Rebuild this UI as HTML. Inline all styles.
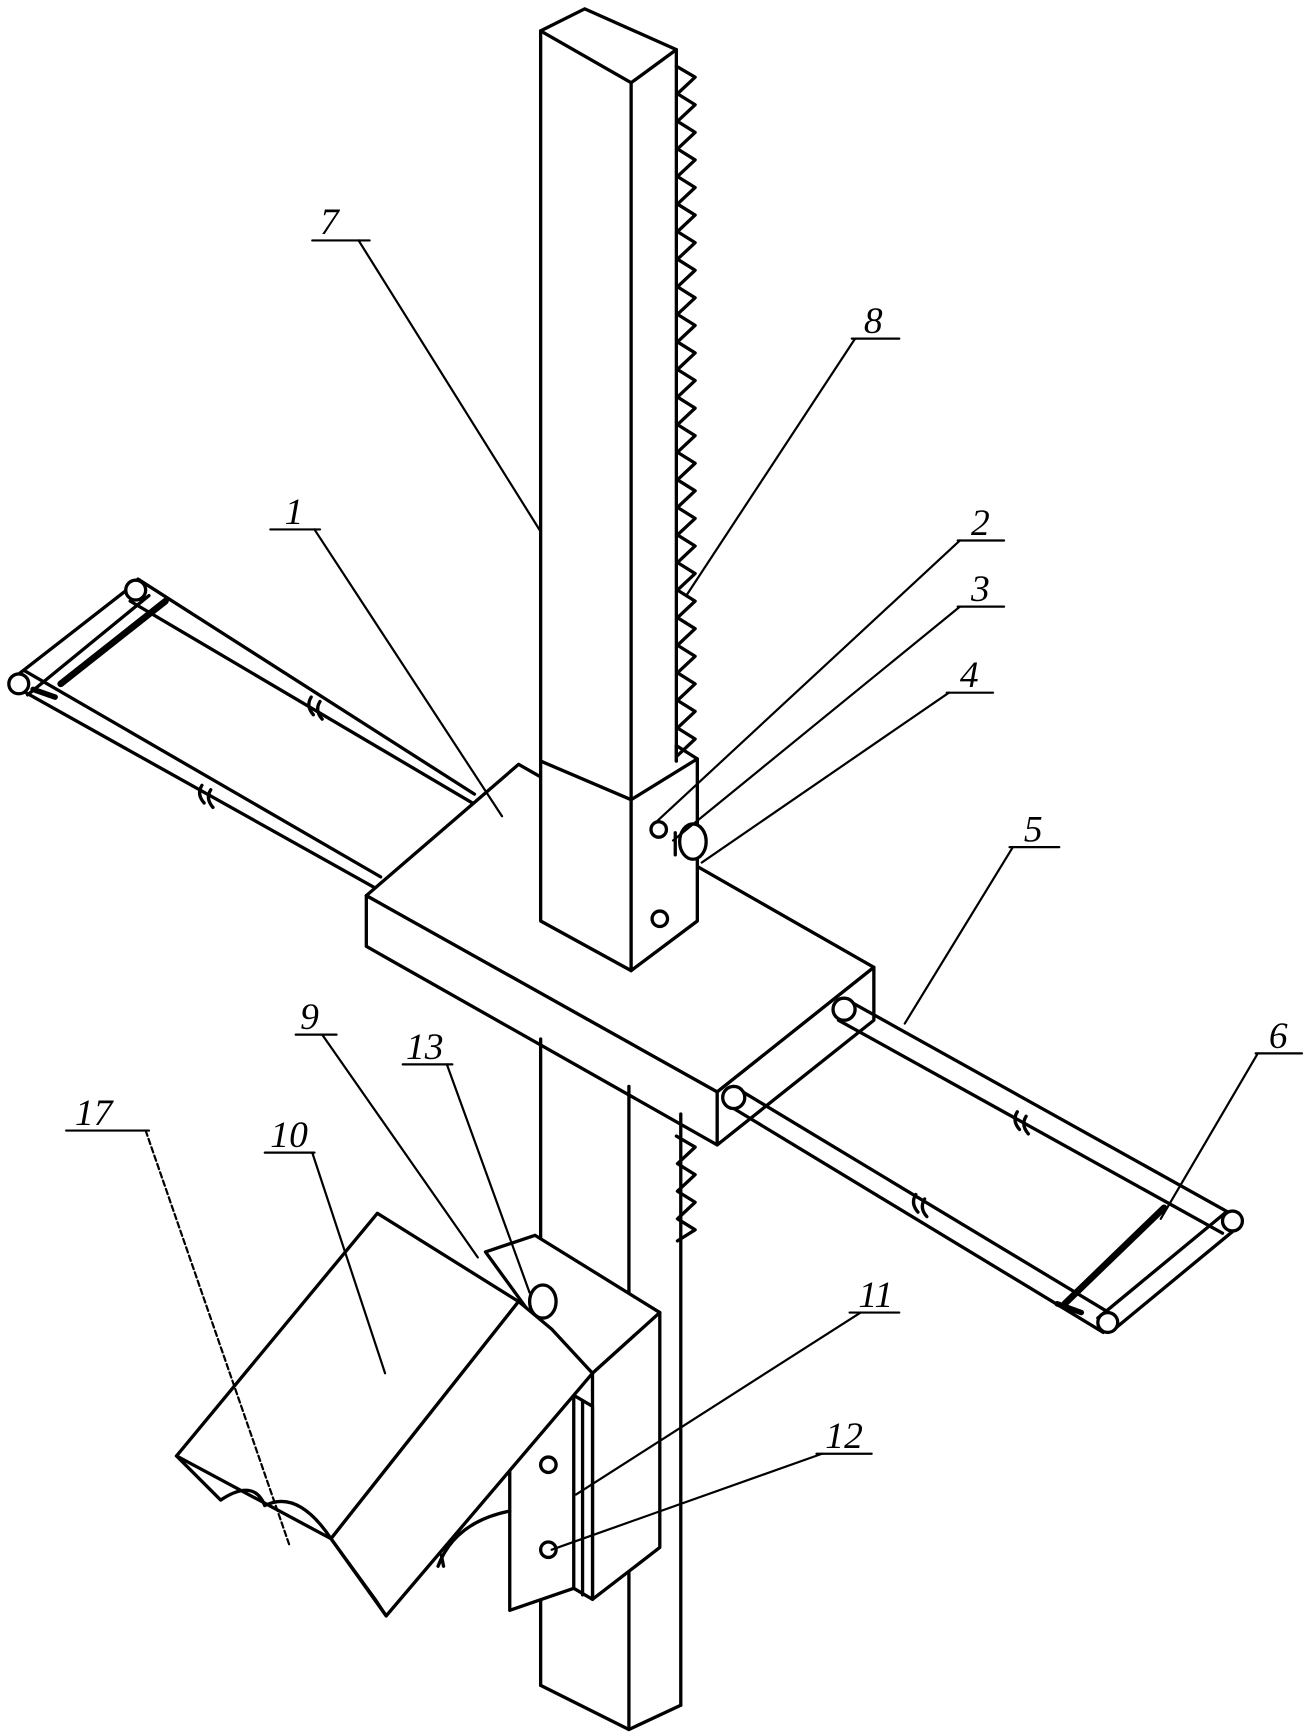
<!DOCTYPE html>
<html><head><style>
html,body{margin:0;padding:0;background:#fff;overflow:hidden;width:1313px;height:1735px;}
svg{display:block;}
text{font-family:"Liberation Serif",serif;font-style:italic;font-size:34px;fill:#000;}
</style></head><body>
<svg width="1313" height="1735" viewBox="0 0 1190 1573" preserveAspectRatio="none" xmlns="http://www.w3.org/2000/svg">
<g fill="none" stroke="#000" stroke-width="3" stroke-linejoin="round" stroke-linecap="round">
<!-- pillar top -->
<polygon points="490,28 530,8 613,45 572,75" fill="#fff"/>
<line x1="490" y1="28" x2="490" y2="690"/>
<line x1="572" y1="75" x2="572" y2="725"/>
<line x1="613" y1="45" x2="613" y2="690"/>
<polyline points="613,60 630,70 614,85 630,95 614,110 630,120 614,135 630,145 614,160 630,170 614,185 630,195 614,210 630,220 614,235 630,245 614,260 630,270 614,285 630,295 614,310 630,320 614,335 630,345 614,360 630,370 614,385 630,395 614,410 630,420 614,435 630,445 614,460 630,470 614,485 630,495 614,510 630,520 614,535 630,545 614,560 630,570 614,585 630,595 614,610 630,620 614,635 630,645 614,660 630,670 614,685"/>
<polyline points="613,1030 630,1040 614,1055 630,1065 614,1080 630,1090 614,1105 630,1115 614,1125"/>
<!-- left rods -->
<line x1="430" y1="720" x2="125" y2="525"/>
<line x1="440" y1="735" x2="118" y2="545"/>
<line x1="345" y1="795" x2="22" y2="608"/>
<line x1="340" y1="805" x2="18" y2="625"/>
<line x1="125" y1="527" x2="12" y2="615"/>
<line x1="135" y1="540" x2="25" y2="630"/>
<circle cx="123" cy="535" r="9" fill="#fff"/>
<circle cx="17" cy="620" r="9" fill="#fff"/>
<line x1="150" y1="545" x2="55" y2="620" stroke-width="6"/>
<line x1="30" y1="625" x2="50" y2="632" stroke-width="5"/>
<path d="M282,632 q-5,8 2,16 M290,636 q-5,8 2,16"/>
<path d="M183,712 q-5,8 2,16 M191,716 q-5,8 2,16"/>
<!-- block 1 -->
<polygon points="332,812 470,693 792,877 650,990" fill="#fff"/>
<polygon points="332,812 650,990 650,1038 332,858" fill="#fff"/>
<polygon points="650,990 792,877 792,925 650,1038" fill="#fff"/>
<!-- sleeve 2 -->
<polygon points="490,690 572,725 572,880 490,835" fill="#fff"/>
<polygon points="572,725 632,688 632,835 572,880" fill="#fff"/>
<line x1="613" y1="676" x2="632" y2="688"/>
<line x1="613" y1="676" x2="613" y2="690"/>
<circle cx="597" cy="752" r="7"/>
<circle cx="598" cy="833" r="7"/>
<ellipse cx="628" cy="763" rx="12" ry="16" fill="#fff"/>
<line x1="612" y1="755" x2="612" y2="775"/>
<!-- lower pillar -->
<line x1="490" y1="942" x2="490" y2="1528"/>
<line x1="570" y1="985" x2="570" y2="1568"/>
<line x1="617" y1="1010" x2="617" y2="1546"/>
<polyline points="490,1528 570,1568 617,1546"/>
<!-- right rods -->
<line x1="765" y1="905" x2="1115" y2="1100"/>
<line x1="760" y1="925" x2="1108" y2="1118"/>
<circle cx="765" cy="915" r="10" fill="#fff"/>
<line x1="665" y1="985" x2="1005" y2="1190"/>
<line x1="665" y1="1005" x2="1000" y2="1208"/>
<circle cx="665" cy="995" r="10" fill="#fff"/>
<line x1="1110" y1="1100" x2="995" y2="1195"/>
<line x1="1125" y1="1110" x2="1010" y2="1205"/>
<circle cx="1117" cy="1107" r="9" fill="#fff"/>
<circle cx="1004" cy="1199" r="9" fill="#fff"/>
<line x1="1055" y1="1095" x2="965" y2="1182" stroke-width="6"/>
<line x1="958" y1="1182" x2="980" y2="1190" stroke-width="5"/>
<path d="M922,1008 q-5,8 2,16 M930,1012 q-5,8 2,16"/>
<path d="M830,1083 q-5,8 2,16 M838,1087 q-5,8 2,16"/>
<!-- bracket 9 -->
<polygon points="440,1135 485,1120 598,1190 537,1245 480,1190" fill="#fff"/>
<polygon points="537,1245 598,1190 598,1403 537,1450" fill="#fff"/>
<polygon points="462,1280 520,1265 537,1275 537,1450 520,1440 462,1460" fill="#fff"/>
<line x1="520" y1="1265" x2="520" y2="1440"/>
<line x1="528" y1="1270" x2="528" y2="1446"/>
<circle cx="497" cy="1328" r="7"/>
<circle cx="497" cy="1405" r="7"/>
<ellipse cx="492" cy="1180" rx="12" ry="15" fill="#fff"/>
<!-- box 10 -->
<polygon points="342,1100 470,1180 300,1395 160,1320" fill="#fff"/>
<polygon points="470,1180 500,1205 537,1245 350,1465 300,1395" fill="#fff"/>
<path d="M160,1320 L200,1360 Q230,1340 240,1365 Q270,1350 300,1395 L340,1450 L350,1465"/>
<path d="M462,1370 q-50,10 -65,50 M400,1410 l2,10"/>
<!-- leaders -->
<g stroke-width="2">
<line x1="283" y1="218" x2="335" y2="218"/><line x1="325" y1="218" x2="490" y2="482"/>
<line x1="772" y1="307" x2="815" y2="307"/><line x1="775" y1="307" x2="622" y2="540"/>
<line x1="245" y1="480" x2="290" y2="480"/><line x1="285" y1="480" x2="455" y2="740"/>
<line x1="868" y1="490" x2="910" y2="490"/><line x1="870" y1="490" x2="595" y2="745"/>
<line x1="868" y1="550" x2="910" y2="550"/><line x1="870" y1="550" x2="610" y2="762"/>
<line x1="858" y1="628" x2="900" y2="628"/><line x1="860" y1="628" x2="636" y2="782"/>
<line x1="915" y1="768" x2="960" y2="768"/><line x1="918" y1="768" x2="820" y2="928"/>
<line x1="1138" y1="955" x2="1180" y2="955"/><line x1="1140" y1="955" x2="1052" y2="1105"/>
<line x1="268" y1="938" x2="305" y2="938"/><line x1="292" y1="938" x2="433" y2="1140"/>
<line x1="365" y1="965" x2="410" y2="965"/><line x1="405" y1="965" x2="480" y2="1172"/>
<line x1="240" y1="1045" x2="285" y2="1045"/><line x1="283" y1="1045" x2="349" y2="1245"/>
<line x1="60" y1="1025" x2="135" y2="1025"/><line x1="132" y1="1025" x2="262" y2="1400" stroke-dasharray="5,3"/>
<line x1="770" y1="1190" x2="815" y2="1190"/><line x1="780" y1="1190" x2="522" y2="1355"/>
<line x1="740" y1="1318" x2="790" y2="1318"/><line x1="745" y1="1318" x2="500" y2="1405"/>
</g>
</g>
<text x="290" y="212">7</text>
<text x="783" y="302">8</text>
<text x="258" y="475">1</text>
<text x="880" y="485">2</text>
<text x="880" y="545">3</text>
<text x="870" y="623">4</text>
<text x="928" y="763">5</text>
<text x="1150" y="950">6</text>
<text x="272" y="933">9</text>
<text x="368" y="960">13</text>
<text x="245" y="1040">10</text>
<text x="68" y="1020">17</text>
<text x="778" y="1185">11</text>
<text x="748" y="1313">12</text>
</svg>
</body></html>
